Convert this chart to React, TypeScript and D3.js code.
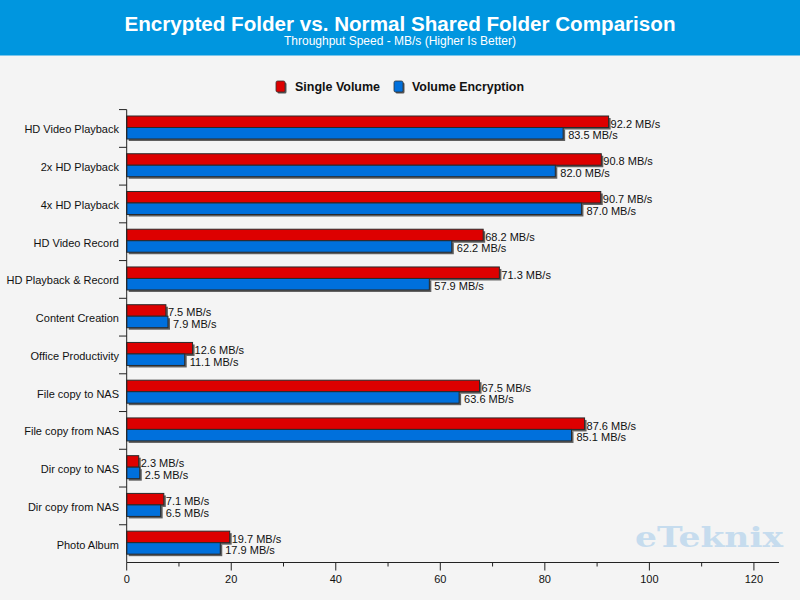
import React from "react";
import * as d3 from "d3";

const categories = [
  "HD Video Playback",
  "2x HD Playback",
  "4x HD Playback",
  "HD Video Record",
  "HD Playback & Record",
  "Content Creation",
  "Office Productivity",
  "File copy to NAS",
  "File copy from NAS",
  "Dir copy to NAS",
  "Dir copy from NAS",
  "Photo Album",
];
const singleVolume = [92.2, 90.8, 90.7, 68.2, 71.3, 7.5, 12.6, 67.5, 87.6, 2.3, 7.1, 19.7];
const volumeEncryption = [83.5, 82.0, 87.0, 62.2, 57.9, 7.9, 11.1, 63.6, 85.1, 2.5, 6.5, 17.9];
const seriesNames = ["Single Volume", "Volume Encryption"];
const majorTicks = [0, 20, 40, 60, 80, 100, 120];
const minorTicks = [10, 30, 50, 70, 90, 110];

const W = 800;
const H = 600;
const left = 126.7;
const top = 109.6;
const bottom = 562.5;
const font = "'Liberation Sans', Arial, sans-serif";

export default function App() {
  const x = d3.scaleLinear().domain([0, 124.8]).range([left, 779]);
  const y = d3.scaleBand().domain(categories).range([top, bottom]).paddingInner(0).paddingOuter(0);
  const bw = y.bandwidth();
  const barH = 11.5;
  const colors = ["#dd0000", "#0070dc"];
  const series = [singleVolume, volumeEncryption];

  return (
    <svg width={W} height={H} style={{ position: "absolute", left: 0, top: 0, display: "block" }}>
      <rect x={0} y={0} width={W} height={H} fill="#f4f4f4" />
      <rect x={0} y={0} width={W} height={55.5} fill="#0096df" />
      <text x={400} y={30.5} textAnchor="middle" fill="#fff" fontFamily={font} fontWeight="bold" fontSize={20}
        textLength={551} lengthAdjust="spacingAndGlyphs">
        Encrypted Folder vs. Normal Shared Folder Comparison
      </text>
      <text x={400} y={44.5} textAnchor="middle" fill="#fff" fontFamily={font} fontSize={12}
        textLength={232} lengthAdjust="spacingAndGlyphs">
        Throughput Speed - MB/s (Higher Is Better)
      </text>

      {/* legend */}
      {[{ x: 276, tx: 295, tl: 85 }, { x: 394, tx: 412, tl: 112 }].map((l, i) => (
        <g key={i}>
          <rect x={l.x + 1.5} y={82.5} width={9} height={11} rx={1.5} fill="#555" />
          <rect x={l.x} y={81} width={9} height={11} rx={1.5} fill={colors[i]} stroke="#333" strokeWidth={0.8} />
          <text x={l.tx} y={91} fontFamily={font} fontWeight="bold" fontSize={12} fill="#111"
            textLength={l.tl} lengthAdjust="spacingAndGlyphs">{seriesNames[i]}</text>
        </g>
      ))}

      {/* watermark */}
      <text x={635} y={547} fontFamily="'DejaVu Serif', serif" fontWeight="bold" fontSize={28} fill="#c6dcee"
        textLength={148} lengthAdjust="spacingAndGlyphs">eTeknix</text>

      {/* bars */}
      {categories.map((c, ci) => {
        const y0 = (y(c) as number) + 6.4;
        return (
          <g key={c}>
            {series.map((s, si) => {
              const by = y0 + si * barH;
              const w = x(s[ci]) - x(0);
              return (
                <g key={si}>
                  <rect x={x(0) + 2} y={by + 2} width={w} height={barH} fill="#444" opacity={0.85} />
                  <rect x={x(0)} y={by} width={w} height={barH} fill={colors[si]} stroke="#2a2a2a" strokeWidth={1} />
                  <text x={x(s[ci]) + (si === 0 ? 2 : 5)} y={by + barH / 2 + 6} fontFamily={font} fontSize={11} fill="#111">
                    {s[ci].toFixed(1)} MB/s
                  </text>
                </g>
              );
            })}
            <text x={119} y={(y(c) as number) + bw / 2 + 5} textAnchor="end" fontFamily={font} fontSize={11} fill="#111">
              {c}
            </text>
          </g>
        );
      })}

      {/* y axis */}
      <line x1={left} x2={left} y1={top} y2={bottom} stroke="#222" strokeWidth={1} />
      {categories.map((c, i) => (
        <line key={i} x1={119} x2={left} y1={(y(c) as number)} y2={(y(c) as number)} stroke="#222" strokeWidth={1} />
      ))}

      {/* x axis */}
      <line x1={left} x2={779} y1={bottom} y2={bottom} stroke="#222" strokeWidth={1} />
      {majorTicks.map((t) => (
        <g key={t}>
          <line x1={x(t)} x2={x(t)} y1={bottom} y2={bottom + 8} stroke="#222" />
          <text x={x(t)} y={583} textAnchor="middle" fontFamily={font} fontSize={11} fill="#111">{t}</text>
        </g>
      ))}
      {minorTicks.map((t) => (
        <line key={t} x1={x(t)} x2={x(t)} y1={bottom} y2={bottom + 4} stroke="#222" />
      ))}
    </svg>
  );
}
